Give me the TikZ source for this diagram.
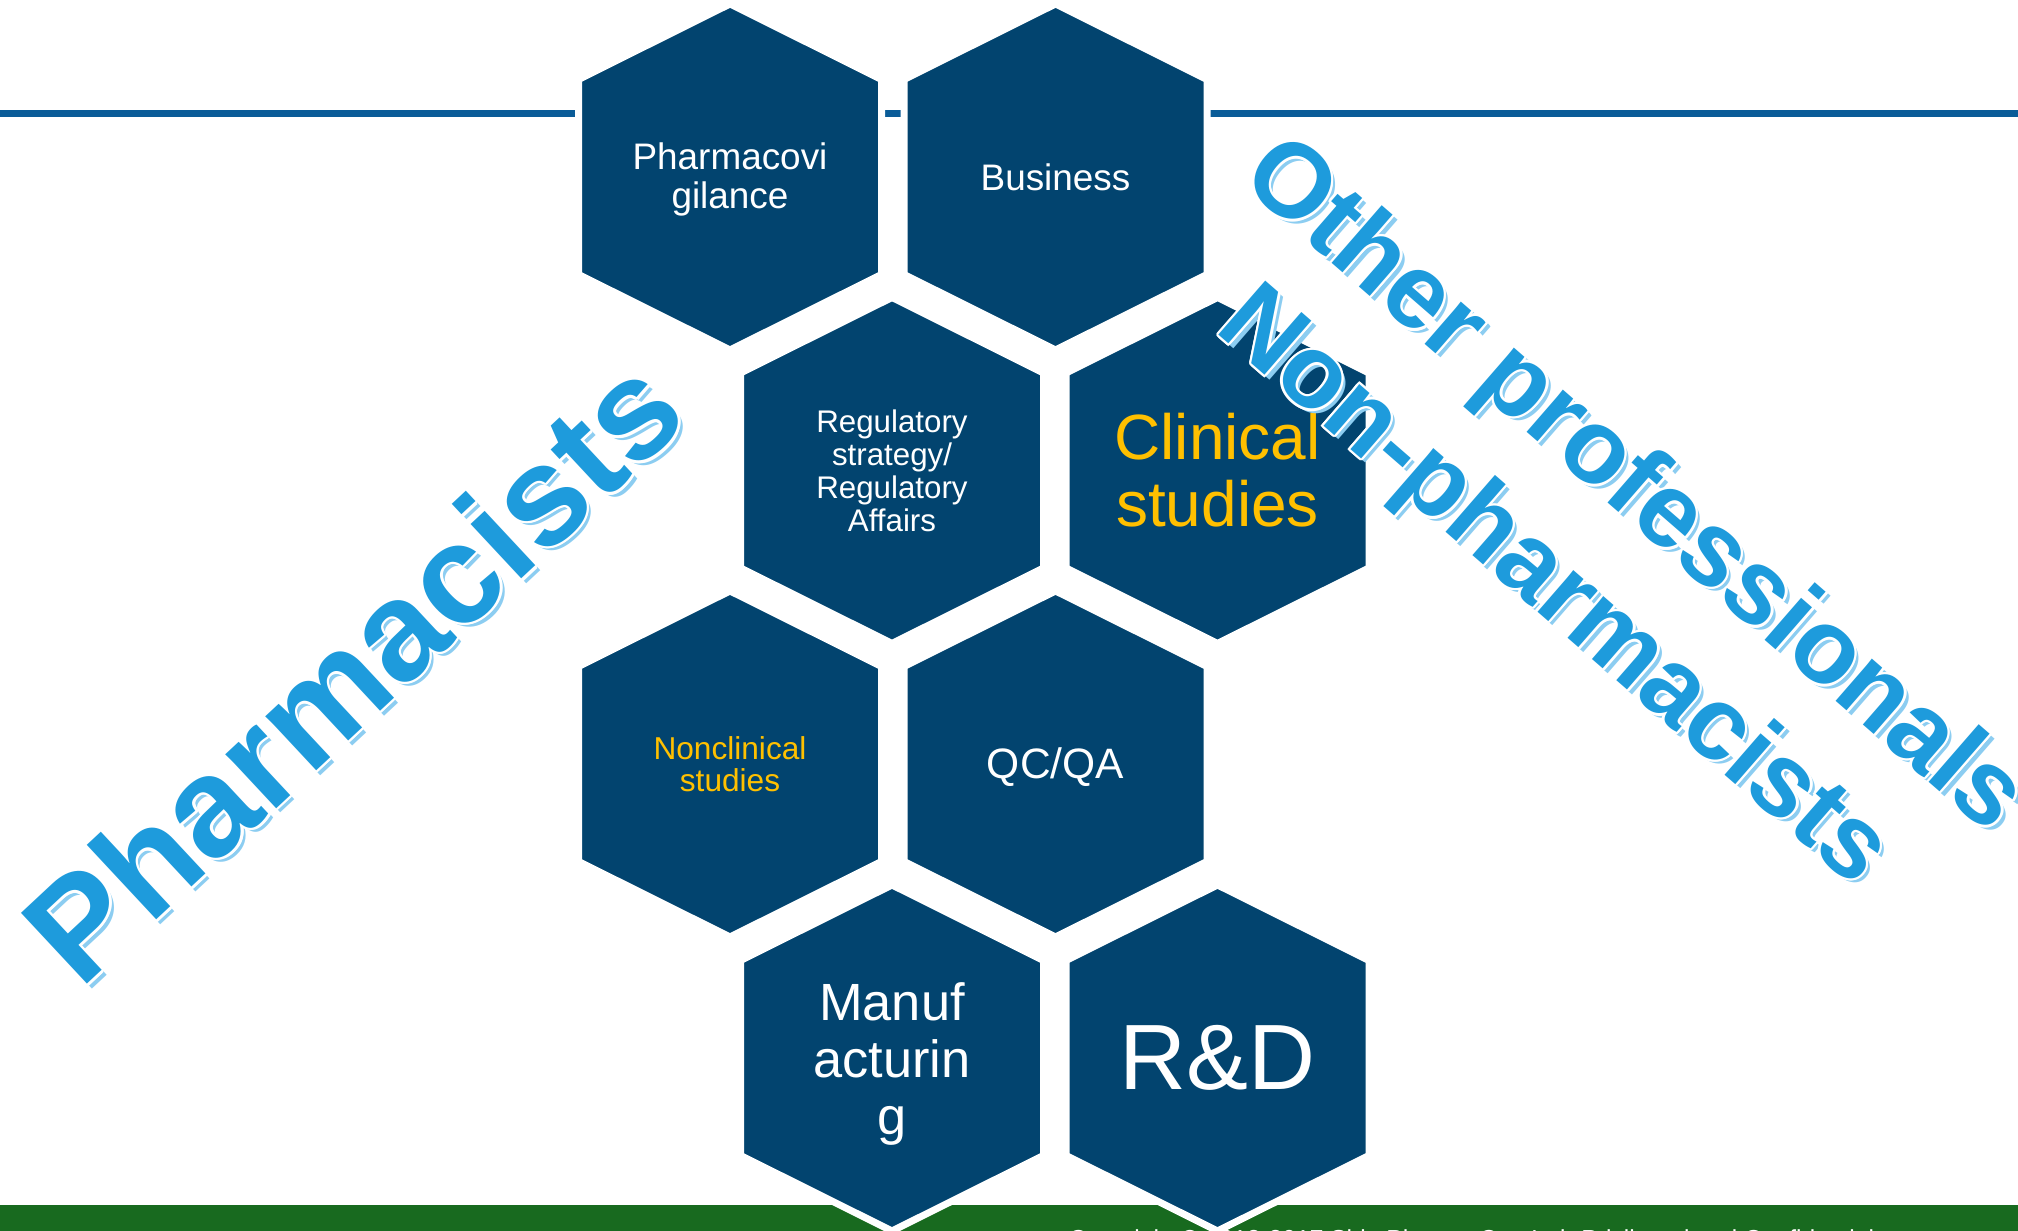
\documentclass[tikz,border=0pt]{standalone}
\usepackage{fontspec}
\setmainfont{Liberation Sans}
\usepackage{tikz}
\usetikzlibrary{calc}

\definecolor{hexblue}{HTML}{02446F}
\definecolor{ruleblue}{HTML}{0A5C98}
\definecolor{bandgreen}{HTML}{186A1F}
\definecolor{gold}{HTML}{FFC000}
\definecolor{artblue}{HTML}{1E9BDC}
\definecolor{artshade}{HTML}{8CCDF1}

\begin{document}
\begin{tikzpicture}[line width = 1pt,
    hexa/.style = {fill = hexblue, draw = white, line width = 0.07cm, line join = miter},
    label/.style = {inner sep = 0pt, text = white, align = center},
    fs/.style 2 args = {font = \fontsize{#1}{#2}\selectfont},
    art/.style = {font = \bfseries\fontsize{#1}{#1}\selectfont, inner sep = 0pt}]
\useasboundingbox (0,0) rectangle (20.18,12.31);
\fill[bandgreen] (0,0) rectangle (20.18,0.26);
\coordinate (rl) at (0,11.17);
\coordinate (rr) at (20.18,11.17);
\draw[ruleblue, line width = 0.07cm] (rl) -- (rr);
\coordinate (c1) at (7.30,10.54);
\coordinate (c2) at (10.555,10.54);
\coordinate (c3) at (8.92,7.605);
\coordinate (c4) at (12.175,7.605);
\coordinate (c5) at (7.30,4.67);
\coordinate (c6) at (10.555,4.67);
\coordinate (c7) at (8.92,1.73);
\coordinate (c8) at (12.175,1.73);
\foreach \c in {c1,c2,c3,c4,c5,c6,c7,c8}
    \filldraw[hexa] ($(\c)+(0,1.73)$) -- ($(\c)+(1.515,0.975)$) -- ($(\c)+(1.515,-0.975)$)
        -- ($(\c)+(0,-1.73)$) -- ($(\c)+(-1.515,-0.975)$) -- ($(\c)+(-1.515,0.975)$) -- cycle;
\draw (c1) node[label, fs = {10.5}{11}, yshift = -0.025cm](h1){Pharmacovi\\gilance}
    (c2) node[label, fs = {10.5}{11}](h2){Business}
    (c3) node[label, fs = {8.9}{9.4}](h3){Regulatory\\strategy/\\Regulatory\\Affairs}
    (c4) node[label, fs = {18.2}{19.1}, text = gold](h4){Clinical\\studies}
    (c5) node[label, fs = {9}{9.1}, text = gold](h5){Nonclinical\\studies}
    (c6) node[label, fs = {12.1}{13}, yshift = -0.03cm](h6){QC/QA}
    (c7) node[label, fs = {14.9}{16.1}, yshift = -0.06cm](h7){Manuf\\acturin\\g}
    (c8) node[label, fs = {26.4}{28}](h8){R\&D};
\foreach \name/\x/\y/\ang/\size/\word in {pha/3.52/5.62/43/40/Pharmacists,
        oth/16.32/7.43/-41/30/Other professionals,
        non/15.52/6.42/-41/29.6/Non-pharmacists} {
    \node[art = \size, artshade, rotate = \ang] at (\x+0.045,\y-0.045) {\word};
    \foreach \a in {0,30,...,330}
        \node[art = \size, white, rotate = \ang] at ($(\x,\y)+(\a:0.025)$) {\word};
    \node[art = \size, artblue, rotate = \ang] (\name) at (\x,\y) {\word};
}
\node[anchor = north west, inner sep = 0pt, white, fs = {7}{8}] (copy) at (10.67,0.035)
    {Copyright © 2012-2017 Shin Pharma Co., Ltd. Privileged and Confidential};
\end{tikzpicture}
\end{document}
